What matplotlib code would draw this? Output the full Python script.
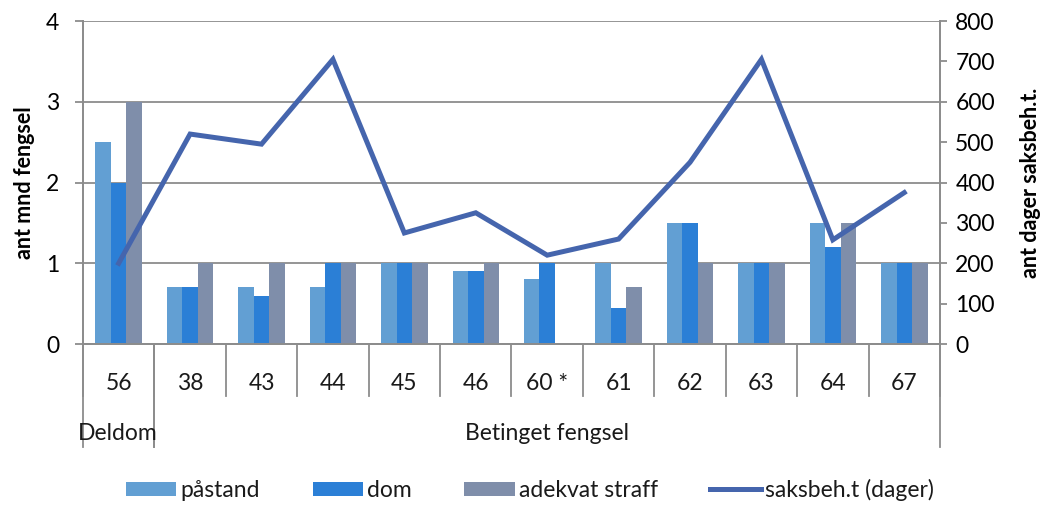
import numpy as np
import matplotlib.pyplot as plt
from matplotlib.transforms import blended_transform_factory
from matplotlib.lines import Line2D

# Saksdata
saker = ["56", "38", "43", "44", "45", "46", "60 *", "61", "62", "63", "64", "67"]
pastand = [2.5, 0.7, 0.7, 0.7, 1.0, 0.9, 0.8, 1.0, 1.5, 1.0, 1.5, 1.0]
dom = [2.0, 0.7, 0.6, 1.0, 1.0, 0.9, 1.0, 0.45, 1.5, 1.0, 1.2, 1.0]
adekvat = [3.0, 1.0, 1.0, 1.0, 1.0, 1.0, 0.0, 0.7, 1.0, 1.0, 1.5, 1.0]
saksbeh_dager = [200, 520, 495, 705, 275, 325, 220, 260, 450, 705, 258, 375]

# Gruppering av saker
grupper = [("Deldom", 0, 0), ("Betinget fengsel", 1, 11)]

plt.rcParams["font.family"] = ["Lato", "DejaVu Sans"]
plt.rcParams["text.color"] = "#1a1a1a"

FS = 16.5
GRID = "#8c8c8c"
C_PAST = "#629fd3"
C_DOM = "#2b7fd6"
C_ADEK = "#7f8eaa"
C_LINJE = "#4565ad"

fig = plt.figure(figsize=(10.45, 5.05), dpi=100)
ax = fig.add_axes([0.0794, 0.3188, 0.8201, 0.6396])
ax2 = ax.twinx()

x = np.arange(len(saker))
w = 0.217

ax.bar(x - w, pastand, w, color=C_PAST, label="påstand", zorder=2)
ax.bar(x, dom, w, color=C_DOM, label="dom", zorder=2)
ax.bar(x + w, adekvat, w, color=C_ADEK, label="adekvat straff", zorder=2)

ax2.plot(x, saksbeh_dager, color=C_LINJE, linewidth=3.6,
         solid_joinstyle="miter", label="saksbeh.t (dager)")

ax.set_xlim(-0.5, len(saker) - 0.5)
ax.set_ylim(0, 4)
ax.set_yticks([0, 1, 2, 3, 4])
ax2.set_ylim(0, 800)
ax2.set_yticks(range(0, 801, 100))

ax.set_axisbelow(True)
ax.grid(True, axis="y", color=GRID, linewidth=1.3)
ax.set_xticks([])

for a in (ax, ax2):
    a.spines["top"].set_visible(False)
    for side in ("left", "right", "bottom"):
        a.spines[side].set_color(GRID)
        a.spines[side].set_linewidth(1.3)

ax.tick_params(axis="y", length=6, width=1.3, color=GRID, pad=11, labelsize=FS)
ax2.tick_params(axis="y", length=5, width=1.3, color=GRID, pad=6, labelsize=FS)

ax.set_ylabel("ant mnd fengsel", fontsize=FS - 1, fontweight="bold", labelpad=8)
ax2.set_ylabel("ant dager saksbeh.t.", fontsize=FS - 1, fontweight="bold",
               rotation=90, labelpad=18)

# Kategoriakse i to nivåer
trans = blended_transform_factory(ax.transData, ax.transAxes)
for i, s in enumerate(saker):
    ax.text(i, -0.121, s, transform=trans, ha="center", va="center",
            fontsize=FS)

for b in np.arange(-0.5, len(saker), 1.0):
    ax.add_line(Line2D([b, b], [0, -0.161], transform=trans, color=GRID,
                       linewidth=1.3, clip_on=False))

for navn, start, slutt in grupper:
    for b in (start - 0.5, slutt + 0.5):
        ax.add_line(Line2D([b, b], [0, -0.319], transform=trans, color=GRID,
                           linewidth=1.3, clip_on=False))
    if start == slutt:
        ax.text(start - 0.57, -0.276, navn, transform=trans, ha="left",
                va="center", fontsize=FS)
    else:
        ax.text((start + slutt) / 2, -0.276, navn, transform=trans,
                ha="center", va="center", fontsize=FS)

h1, l1 = ax.get_legend_handles_labels()
h2, l2 = ax2.get_legend_handles_labels()
fig.legend(h1 + h2, l1 + l2, loc="center", bbox_to_anchor=(0.507, 0.03),
           ncol=4, frameon=False, fontsize=FS, handlelength=2.2,
           handleheight=0.55, handletextpad=0.17, columnspacing=2.3)

fig.savefig("out.png", dpi=100)
